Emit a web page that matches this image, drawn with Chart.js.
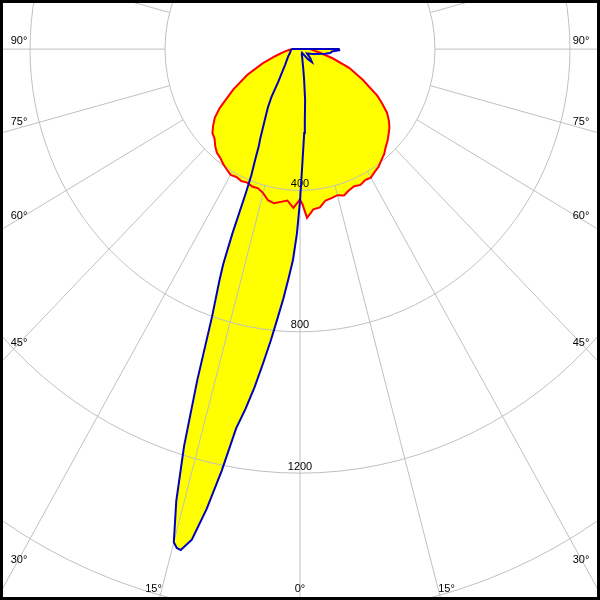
<!DOCTYPE html>
<html>
<head>
<meta charset="utf-8">
<script src="https://cdn.jsdelivr.net/npm/chart.js@4/dist/chart.umd.min.js"></script>
<style>
body{margin:0;background:#fff}
</style>
</head>
<body>
<canvas id="c" width="600" height="600"></canvas>
<script>
// C0-C180 plane (red), gamma in degrees, intensity in cd
const redAngles = [-90,-85,-80,-75,-70,-65,-60,-55,-52.5,-50,-47.5,-45,-42.5,-40,-37.5,-35,-32.5,-30,-27.5,-25,-22.5,-20,-17.5,-15,-12.5,-10,-7.5,-5,-2.5,0,1,2.5,5,7.5,10,12.5,15,17.5,20,22.5,25,27.5,30,32.5,35,37.5,40,42.5,45,47.5,50,52.5,55,57.5,60,65,70,75,80,85,90]
const redValues = [25,35,50,75,118,172,228,290,318,336,352,358,372,383,388,397,404,411,408,412,409,414,413,422,438,443,436,430,450,425,440,478,455,452,435,432,428,434,425,420,424,418,420,412,406,396,388,376,367,356,346,332,315,290,265,205,155,100,60,40,30]

// C90-C270 plane (blue)
const blueAngles = [-90,-80,-70,-60,-50,-45,-40,-35,-32,-30,-27.5,-25,-24,-23,-22,-21.5,-21,-20.5,-20,-19,-18,-17,-16,-15,-14.5,-14,-13,-12,-11,-10,-9,-8,-7,-6,-5,-4,-3,-2,-1,0,1,2,3,4,6,8,10,15,20,30,40,44,50,60,70,80,83,86,88.5,90]
const blueValues = [25,28,32,40,52,62,80,112,160,190,226,278,300,340,385,440,560,650,700,800,985,1175,1330,1445,1458,1461,1425,1330,1215,1090,1030,965,895,830,765,708,650,597,522,430,340,280,238,205,145,88,55,25,15,12,38,51,40,24,40,75,90,95,116,115]

const rings = [400,800,1200,1600]
const angleTicks = [0,15,30,45,60,75,90]

function toXY(angles, values){
  const pts = angles.map((g,i)=>{
    const a = g*Math.PI/180
    return {x: values[i]*Math.sin(a), y: -values[i]*Math.cos(a)}
  })
  pts.push(pts[0])
  return pts
}

const polarGrid = {
  id:'polarGrid',
  beforeDatasetsDraw(chart){
    const ctx = chart.ctx
    const area = chart.chartArea
    const xs = chart.scales.x, ys = chart.scales.y
    const cx = xs.getPixelForValue(0), cy = ys.getPixelForValue(0)
    const kx = (xs.getPixelForValue(1000)-cx)/1000
    const ky = (ys.getPixelForValue(-1000)-cy)/1000
    ctx.save()

    // yellow fill under both curves
    ctx.fillStyle = '#ffff00'
    chart.data.datasets.forEach((ds,i)=>{
      const pts = chart.getDatasetMeta(i).data
      ctx.beginPath()
      pts.forEach((p,j)=> j ? ctx.lineTo(p.x,p.y) : ctx.moveTo(p.x,p.y))
      ctx.closePath()
      ctx.fill()
    })

    ctx.strokeStyle = '#c0c0c0'
    ctx.lineWidth = 1
    rings.forEach(r=>{
      ctx.beginPath()
      ctx.ellipse(cx, cy, r*kx, r*ky, 0, 0, 2*Math.PI)
      ctx.stroke()
    })
    for(let g=0; g<360; g+=15){
      const a = g*Math.PI/180
      ctx.beginPath()
      ctx.moveTo(xs.getPixelForValue(400*Math.sin(a)), ys.getPixelForValue(-400*Math.cos(a)))
      ctx.lineTo(xs.getPixelForValue(3000*Math.sin(a)), ys.getPixelForValue(-3000*Math.cos(a)))
      ctx.stroke()
    }

    ctx.fillStyle = '#000'
    ctx.font = '11px "Liberation Sans", Arial, sans-serif'
    ctx.textAlign = 'center'
    ctx.textBaseline = 'bottom'
    rings.forEach(r=> ctx.fillText(String(r), cx, ys.getPixelForValue(-r)-1))

    ctx.textBaseline = 'middle'
    angleTicks.forEach(g=>{
      [-1,1].forEach(s=>{
        if(g===0 && s>0) return
        const a = g*Math.PI/180
        const ux = s*Math.sin(a)*kx, uy = Math.cos(a)*ky
        const sideX = s<0 ? area.left+19 : area.right-19
        const bottomY = area.bottom-11
        const tSide = ux!==0 ? (sideX-cx)/ux : Infinity
        const tBot = uy>0.0001 ? (bottomY-cy)/uy : Infinity
        let x, y
        if(tSide < tBot){
          x = sideX
          y = cy + uy*tSide - (g-40)*0.16
          ctx.textAlign = 'center'
        } else {
          x = cx + ux*tBot
          y = bottomY
          ctx.textAlign = g===0 ? 'center' : (s<0 ? 'right' : 'left')
        }
        ctx.fillText(g+'°', x, y)
      })
    })
    ctx.restore()
  }
}

const frame = {
  id:'frame',
  afterDraw(chart){
    const ctx = chart.ctx
    ctx.save()
    ctx.strokeStyle = '#000'
    ctx.lineWidth = 3
    ctx.strokeRect(1.5, 1.5, chart.width-3, chart.height-3)
    ctx.restore()
  }
}

new Chart(document.getElementById('c'), {
  type:'scatter',
  data:{
    datasets:[
      {data: toXY(blueAngles, blueValues), borderColor:'#0000c0', borderWidth:2, showLine:true, pointRadius:0, fill:false, tension:0},
      {data: toXY(redAngles, redValues), borderColor:'#ff0000', borderWidth:2, showLine:true, pointRadius:0, fill:false, tension:0}
    ]
  },
  options:{
    responsive:false,
    animation:false,
    layout:{padding:0},
    plugins:{legend:{display:false}, tooltip:{enabled:false}},
    scales:{
      x:{type:'linear', min:-889, max:889, display:false},
      y:{type:'linear', min:-1559, max:139, display:false}
    }
  },
  plugins:[polarGrid, frame]
})
</script>
</body>
</html>
